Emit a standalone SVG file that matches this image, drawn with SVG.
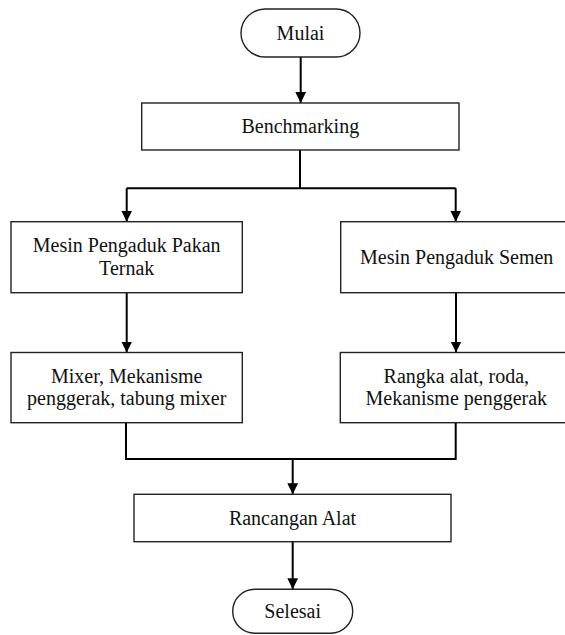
<svg xmlns="http://www.w3.org/2000/svg" width="565" height="635" viewBox="0 0 565 635">
<defs>
<marker id="arr" markerUnits="userSpaceOnUse" markerWidth="12" markerHeight="12" viewBox="0 0 12 12" refX="11" refY="6" orient="auto">
<path d="M0,0.6 L11,6 L0,11.4 Z" fill="#000"/>
</marker>
</defs>
<style>
.box{fill:#fff;stroke:#222;stroke-width:1.4}
.t{font-family:'Liberation Serif','Times New Roman','DejaVu Serif',serif;font-size:20px;fill:#111;text-anchor:middle}
.c{fill:none;stroke:#000;stroke-width:2}
</style>
<rect width="565" height="635" fill="#fff"/>
<g id="connectors">
<path class="c" d="M300.7,57 V103" marker-end="url(#arr)"/>
<path class="c" d="M300,150 V188.3"/>
<path class="c" d="M126.7,188.3 H455.7"/>
<path class="c" d="M126.7,188.3 V221.7" marker-end="url(#arr)"/>
<path class="c" d="M455.7,188.3 V221.7" marker-end="url(#arr)"/>
<path class="c" d="M126.7,292.7 V352.5" marker-end="url(#arr)"/>
<path class="c" d="M456,292.7 V352.5" marker-end="url(#arr)"/>
<path class="c" d="M126,422.7 V459 H455.7 V422.7"/>
<path class="c" d="M292.7,459 V494.3" marker-end="url(#arr)"/>
<path class="c" d="M292.7,541.7 V589.3" marker-end="url(#arr)"/>
</g>
<g id="mulai">
<rect class="box" x="241" y="9" width="119" height="48" rx="24" ry="24"/>
<text class="t" font-family="Liberation Serif, serif" x="300.5" y="40">Mulai</text>
</g>
<g id="benchmarking">
<rect class="box" x="141.7" y="103" width="317.3" height="47"/>
<text class="t" font-family="Liberation Serif, serif" x="300.3" y="133.3">Benchmarking</text>
</g>
<g id="pakan">
<rect class="box" x="11" y="221.7" width="231.3" height="71"/>
<text class="t" font-family="Liberation Serif, serif" x="126.7" y="251.7">Mesin Pengaduk Pakan</text>
<text class="t" font-family="Liberation Serif, serif" x="126.7" y="275">Ternak</text>
</g>
<g id="semen">
<rect class="box" x="340.7" y="221.7" width="232" height="71"/>
<text class="t" font-family="Liberation Serif, serif" x="456.7" y="264">Mesin Pengaduk Semen</text>
</g>
<g id="mixer">
<rect class="box" x="11" y="352.5" width="231.3" height="70.2"/>
<text class="t" font-family="Liberation Serif, serif" x="126.7" y="383.3">Mixer, Mekanisme</text>
<text class="t" font-family="Liberation Serif, serif" x="126.7" y="405.3">penggerak, tabung mixer</text>
</g>
<g id="rangka">
<rect class="box" x="340.3" y="352.5" width="232" height="70.2"/>
<text class="t" font-family="Liberation Serif, serif" x="456.3" y="383.3">Rangka alat, roda,</text>
<text class="t" font-family="Liberation Serif, serif" x="456.3" y="405.3">Mekanisme penggerak</text>
</g>
<g id="rancangan">
<rect class="box" x="134" y="494.3" width="317" height="47.4"/>
<text class="t" font-family="Liberation Serif, serif" x="292.5" y="525">Rancangan Alat</text>
</g>
<g id="selesai">
<rect class="box" x="232.7" y="589.3" width="120" height="44" rx="22" ry="22"/>
<text class="t" font-family="Liberation Serif, serif" x="292.7" y="618.3">Selesai</text>
</g>
</svg>
